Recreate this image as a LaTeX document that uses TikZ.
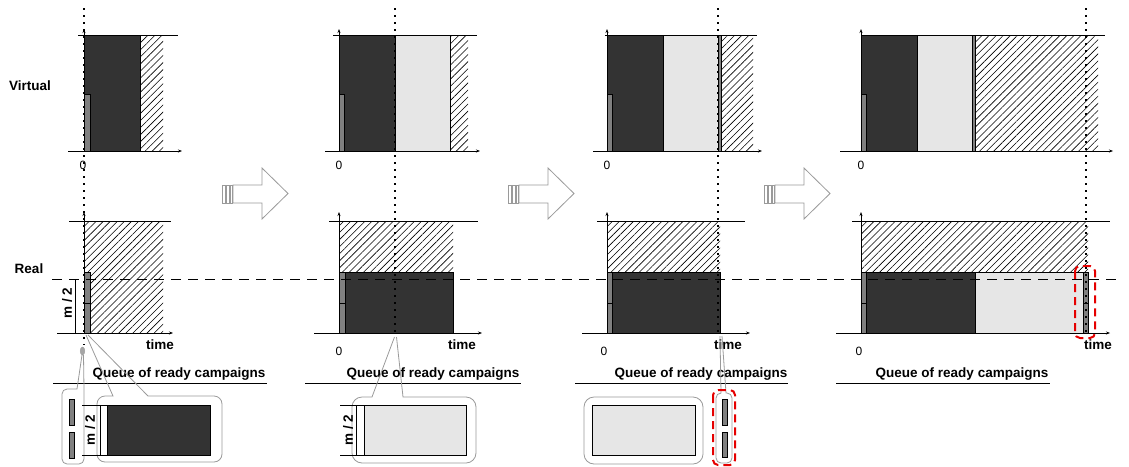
\documentclass[tikz,border=0pt]{standalone}
\usepackage{fontspec}
\setmainfont{Liberation Sans}
\usetikzlibrary{patterns.meta,arrows.meta,shapes.geometric}
\definecolor{dk}{HTML}{333333}
\definecolor{lt}{HTML}{E6E6E6}
\definecolor{barc}{HTML}{808080}
\definecolor{callg}{HTML}{9A9A9A}
\begin{document}
\begin{tikzpicture}[x=1pt,y=-1pt,
 lbl/.style={font=\fontsize{13.5}{16}\selectfont\bfseries, inner sep=0pt},
 zero/.style={font=\fontsize{12}{14}\selectfont, inner sep=0pt},
 darkbox/.style={fill=dk,draw=black,line width=0.8pt},
 lightbox/.style={fill=lt,draw=black,line width=0.8pt},
 graybar/.style={fill=barc,draw=black,line width=0.6pt},
 hatch/.style={pattern={Lines[angle=45,distance=5pt,line width=0.6pt]}},
 axis/.style={line width=0.8pt,-{Stealth[length=4pt,width=3pt]}},
 hline/.style={line width=0.8pt},
 dots/.style={line width=2pt,dash pattern=on 2pt off 5pt},
 callout/.style={draw=callg,line width=0.8pt},
 reddash/.style={draw=red!90!black,line width=2pt,dash pattern=on 8pt off 5pt,rounded corners=5pt},
 bigarrow/.style={draw=callg,line width=0.8pt,fill=white}]
\useasboundingbox (0,0) rectangle (1129,466);

% ---------- row labels
\node[lbl] (virt) at (30,86) {Virtual};
\node[lbl] (real) at (29,269) {Real};

% ---------- big hollow arrows
\foreach \a in {222,508,764}{
  \draw[bigarrow] (\a,185) rectangle (\a+3,203);
  \draw[bigarrow] (\a+4,185) rectangle (\a+7,203);
  \draw[bigarrow] (\a+8,185) rectangle (\a+10,203);
  \draw[bigarrow] (\a+11,185) -- (\a+40,185) -- (\a+40,168) -- (\a+66,193.5)
     -- (\a+40,219) -- (\a+40,203) -- (\a+11,203) -- cycle;
}

% ================= PANEL 1 =================
% virtual
\path[hatch] (140,35) rectangle (163,151);
\draw[darkbox] (84,35) rectangle (140,151);
\draw[graybar] (84,94) rectangle (90,151);
\draw[hline] (78,35) -- (178,35);
\draw[axis] (68,151) -- (182,151);
\draw[axis] (84,151) -- (84,29);
\node[zero] (z1v) at (83,165) {0};
% real
\path[hatch] (84,221) rectangle (163,333);
\draw[graybar] (84,272) rectangle (90,333);
\draw[line width=0.6pt] (84,303) -- (90,303);
\draw[hline] (69,221) -- (171,221);
\draw[axis] (57,333) -- (173,333);
\draw[axis] (84,333) -- (84,212);
\draw[hline] (75,279) -- (75,333);
\node[lbl,rotate=90] (m1) at (67,303) {m / 2};
\node[lbl] (t1) at (160,345) {time};
\node[draw=callg,fill=barc!70,ellipse,minimum width=4.6pt,minimum height=8pt,inner sep=0pt] (src1) at (82.5,351) {};
% queue
\node[lbl] (q1) at (179,374) {Queue of ready campaigns};
\draw[hline] (53,383) -- (267,383);
\draw[callout] (82,355) -- (77,389) [rounded corners=5pt] -- (62,389) -- (62,464) -- (84,464) [sharp corners] -- (84,389) -- (83.5,355);
\draw[graybar] (69,399) rectangle (74,425);
\draw[graybar] (69,432) rectangle (74,458);
\draw[callout] (86,335) -- (113,396) [rounded corners=8pt] -- (97,396) -- (97,462) -- (222,462) -- (222,396) [sharp corners] -- (148,396) -- (88,335);
\draw[darkbox] (107,405) rectangle (210,455);
\draw[hline] (82,405) -- (107,405) (82,455) -- (107,455) (100,405) -- (100,455);
\node[lbl,rotate=90] (m1q) at (90,430) {m / 2};

% ================= PANEL 2 =================
\path[hatch] (450,35) rectangle (468,151);
\draw[darkbox] (339,35) rectangle (395,151);
\draw[lightbox] (395,35) rectangle (450,151);
\draw[graybar] (339,94) rectangle (344,151);
\draw[hline] (333,35) -- (477,35);
\draw[axis] (325,151) -- (480,151);
\draw[axis] (339,151) -- (339,29);
\node[zero] (z2v) at (339,165) {0};
% real
\path[hatch] (339,221) rectangle (453,272);
\draw[darkbox] (345,272) rectangle (453,333);
\draw[graybar] (339,272) rectangle (345,333);
\draw[line width=0.6pt] (339,303) -- (345,303);
\draw[hline] (329,221) -- (478,221);
\draw[axis] (314,333) -- (482,333);
\draw[axis] (339,333) -- (339,212);
\node[zero] (z2r) at (339,351) {0};
\node[lbl] (t2) at (462,345) {time};
% queue
\node[lbl] (q2) at (433,374) {Queue of ready campaigns};
\draw[hline] (305,383) -- (521,383);
\draw[callout] (394.5,337) -- (372,397) [rounded corners=10pt] -- (352,397) -- (352,463) -- (476,463) -- (476,397) [sharp corners] -- (403,397) -- (396.5,337);
\draw[lightbox] (364,405) rectangle (466,455);
\draw[hline] (340,405) -- (364,405) (340,455) -- (364,455) (356,405) -- (356,455);
\node[lbl,rotate=90] (m2q) at (348,430) {m / 2};

% ================= PANEL 3 =================
\path[hatch] (721,35) rectangle (753,151);
\draw[darkbox] (607,35) rectangle (663,151);
\draw[lightbox] (663,35) rectangle (718,151);
\draw[graybar] (718,35) rectangle (721,151);
\draw[graybar] (607,94) rectangle (612,151);
\draw[hline] (605,35) -- (757,35);
\draw[axis] (593,151) -- (762,151);
\draw[axis] (607,151) -- (607,29);
\node[zero] (z3v) at (607,165) {0};
% real
\path[hatch] (607,221) rectangle (720,272);
\draw[darkbox] (612,272) rectangle (720,333);
\draw[graybar] (607,272) rectangle (612,333);
\draw[line width=0.6pt] (607,303) -- (612,303);
\draw[hline] (597,221) -- (745,221);
\draw[axis] (582,333) -- (750,333);
\draw[axis] (607,333) -- (607,212);
\node[zero] (z3r) at (604,351) {0};
\node[lbl] (t3) at (728,345) {time};
% queue
\node[lbl] (q3) at (701,374) {Queue of ready campaigns};
\draw[hline] (575,383) -- (788,383);
\draw[callout,rounded corners=10pt] (584,397) rectangle (703,464);
\draw[lightbox] (592,405) rectangle (695,455);
\draw[callout] (720,336) -- (721,393) [rounded corners=5pt] -- (716,393) -- (716,463) -- (732,463) -- (732,393) [sharp corners] -- (726,393) -- (722,336);
\draw[graybar] (722,399) rectangle (727,425);
\draw[graybar] (722,432) rectangle (727,457);
\draw[reddash] (713,390) rectangle (735,465);

% ================= PANEL 4 =================
\path[hatch] (975,35) rectangle (1098,151);
\draw[darkbox] (861,35) rectangle (917,151);
\draw[lightbox] (917,35) rectangle (972,151);
\draw[graybar] (972,35) rectangle (975,151);
\draw[graybar] (861,94) rectangle (866,151);
\draw[hline] (861,35) -- (1105,35);
\draw[axis] (840,151) -- (1113,151);
\draw[axis] (861,151) -- (861,29);
\node[zero] (z4v) at (861,165) {0};
% real
\path[hatch] (861,221) rectangle (1088,272);
\draw[graybar] (861,272) rectangle (866,333);
\draw[line width=0.6pt] (861,303) -- (866,303);
\draw[darkbox] (866,272) rectangle (975,333);
\draw[lightbox] (975,272) rectangle (1083,333);
\draw[graybar] (1083,272) rectangle (1088,333);
\draw[line width=0.6pt] (1083,303) -- (1088,303);
\draw[hline] (852,221) -- (1110,221);
\draw[axis] (836,333) -- (1110,333);
\draw[axis] (861,333) -- (861,212);
\node[zero] (z4r) at (859,351) {0};
\node[lbl] (t4) at (1098,345) {time};
\node[lbl] (q4) at (962,374) {Queue of ready campaigns};
\draw[hline] (836,383) -- (1050,383);
\draw[reddash] (1075,266) rectangle (1095,338);

% ---------- dashed m/2 level and dotted time markers
\draw[line width=0.8pt,dash pattern=on 10pt off 7pt] (52,279) -- (1122,279);
\draw[dots] (84,8) -- (84,345);
\draw[dots] (395,8) -- (395,336);
\draw[dots] (718,8) -- (718,336);
\draw[dots] (1086,8) -- (1086,333);
\end{tikzpicture}
\end{document}
